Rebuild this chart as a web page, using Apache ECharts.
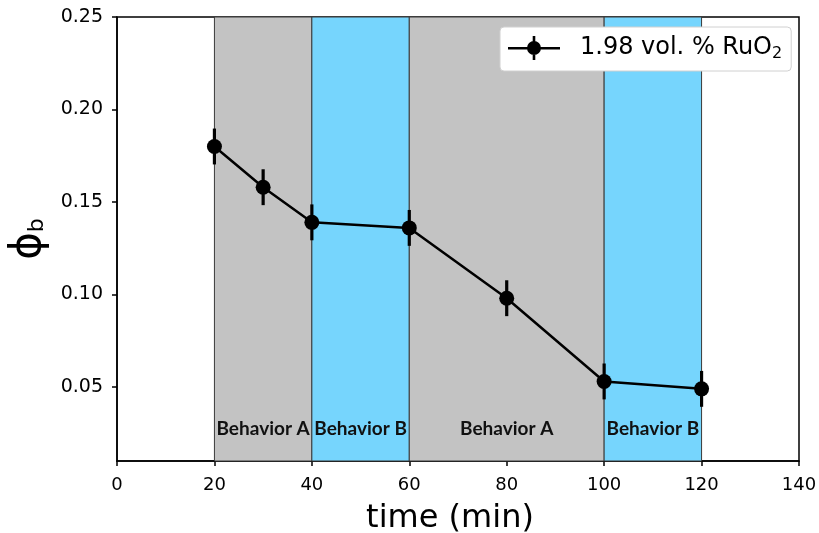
<!DOCTYPE html>
<html>
<head>
<meta charset="utf-8">
<script src="https://cdn.jsdelivr.net/npm/echarts@6/dist/echarts.min.js"></script>
<style>
  html, body { margin: 0; padding: 0; background: #fff; }
  #main { width: 819px; height: 533px; }
</style>
</head>
<body>
<div id="main"></div>
<script>
// data
const times = [20, 30, 40, 60, 80, 100, 120];
const phiB = [0.180, 0.158, 0.139, 0.136, 0.098, 0.053, 0.049];
const phiErr = [0.0097, 0.0097, 0.0097, 0.0097, 0.0097, 0.0097, 0.0097];
const bandStart = [20, 40, 60, 100];
const bandEnd = [40, 60, 100, 120];
const bandLabel = ['Behavior A', 'Behavior B', 'Behavior A', 'Behavior B'];
const bandKind = ['A', 'B', 'A', 'B'];
const yTicks = [0.05, 0.10, 0.15, 0.20, 0.25];
const seriesName = '1.98 vol. % RuO2';

const bandColor = { A: '#c3c3c3', B: '#76d5fd' };

const chart = echarts.init(document.getElementById('main'));

const lineData = times.map((t, i) => [t, phiB[i]]);
const errData = times.map((t, i) => [t, phiB[i] - phiErr[i], phiB[i] + phiErr[i]]);

const areas = bandStart.map((s, i) => [
  {
    xAxis: s,
    itemStyle: { color: bandColor[bandKind[i]], borderColor: '#3a3a3a', borderWidth: 1 },
    label: { formatter: bandLabel[i] }
  },
  { xAxis: bandEnd[i] }
]);

const option = {
  animation: false,
  backgroundColor: '#fff',
  grid: {
    left: 117, right: 20, top: 17, bottom: 72,
    outerBoundsMode: 'none',
    show: true, borderColor: '#000', borderWidth: 1.5, backgroundColor: '#fff'
  },
  legend: {
    left: 500, top: 27,
    padding: [9, 9, 9, 8],
    backgroundColor: '#fff',
    borderColor: '#d0d0d0', borderWidth: 1, borderRadius: 4,
    itemWidth: 52, itemHeight: 24,
    data: [{
      name: seriesName,
      icon: 'path://M0,11 h52 v2.6 h-52 z M24.7,0 h2.6 v24 h-2.6 z M26,5 a7,7 0 1,1 -0.01,0 z'
    }],
    formatter: () => '{a|1.98 vol. % RuO}{s|2}',
    textStyle: {
      padding: [0, 0, 0, 15],
      rich: {
        a: { fontFamily: 'DejaVu Sans', fontSize: 24, color: '#000' },
        s: { fontFamily: 'DejaVu Sans', fontSize: 16, color: '#000', padding: [12, 0, 0, 0] }
      }
    }
  },
  xAxis: {
    type: 'value', min: 0, max: 140, interval: 20,
    name: 'time (min)', nameLocation: 'middle', nameGap: 42,
    nameTextStyle: { fontFamily: 'DejaVu Sans', fontSize: 32, color: '#000', padding: [0, 16, 0, 0] },
    axisLine: { show: true, lineStyle: { color: '#000', width: 1.5 } },
    axisTick: { show: true, length: 5, lineStyle: { color: '#000', width: 1.5 } },
    axisLabel: { fontFamily: 'DejaVu Sans', fontSize: 18, color: '#000', margin: 15 },
    splitLine: { show: false }
  },
  yAxis: {
    type: 'value', min: 0.01, max: 0.25,
    name: '{p|ϕ}{b|b}', nameLocation: 'middle', nameGap: 67,
    nameTextStyle: {
      rich: {
        p: { fontFamily: 'DejaVu Sans', fontSize: 42, color: '#000' },
        b: { fontFamily: 'DejaVu Sans', fontSize: 22, color: '#000', padding: [16, 0, 0, 0] }
      }
    },
    axisLine: { show: true, lineStyle: { color: '#000', width: 1.5 } },
    axisTick: { show: true, length: 5, lineStyle: { color: '#000', width: 1.5 }, customValues: yTicks },
    axisLabel: {
      fontFamily: 'DejaVu Sans', fontSize: 19, color: '#000', margin: 14,
      customValues: yTicks,
      formatter: v => v.toFixed(2)
    },
    splitLine: { show: false }
  },
  series: [
    {
      name: seriesName,
      type: 'line',
      data: lineData,
      z: 5,
      symbol: 'circle', symbolSize: 15,
      itemStyle: { color: '#000' },
      lineStyle: { color: '#000', width: 2.5 },
      markArea: {
        silent: true,
        z: 1,
        label: {
          show: true, position: 'insideBottom', distance: 23,
          fontFamily: 'Lato', fontWeight: 'bold', fontSize: 19, color: '#111'
        },
        data: areas
      }
    },
    {
      name: 'err',
      type: 'custom',
      z: 6,
      data: errData,
      renderItem: (params, api) => {
        const lo = api.coord([api.value(0), api.value(1)]);
        const hi = api.coord([api.value(0), api.value(2)]);
        return {
          type: 'line',
          shape: { x1: lo[0], y1: lo[1], x2: hi[0], y2: hi[1] },
          style: { stroke: '#000', lineWidth: 3.2 }
        };
      }
    }
  ]
};

chart.setOption(option);
</script>
</body>
</html>
